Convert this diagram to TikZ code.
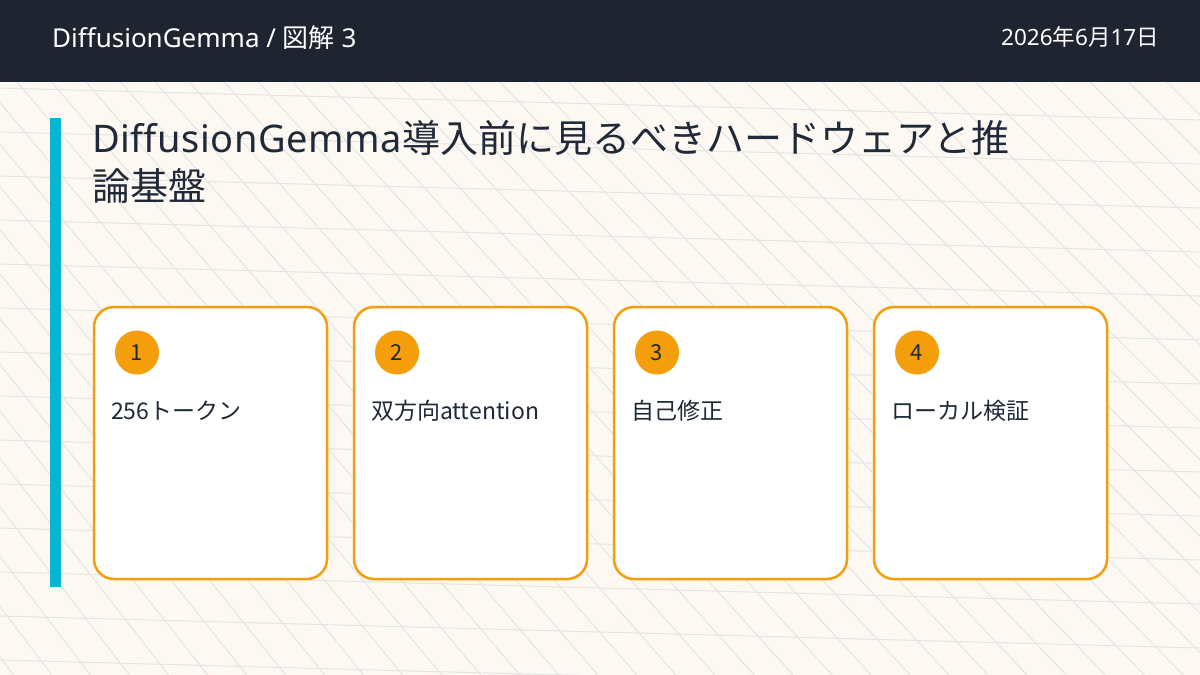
\documentclass[tikz,border=0pt]{standalone}
\usepackage{fontspec}
\setmainfont{Noto Sans CJK JP}
\newfontfamily\latinfont{Noto Sans}
\newfontfamily\latinwide{Noto Sans}[LetterSpace=1.5]
\usetikzlibrary{positioning}
\definecolor{paper}{HTML}{FDF8F1}
\definecolor{navy}{HTML}{1E2430}
\definecolor{ink}{HTML}{1F2937}
\definecolor{amber}{HTML}{F59E0B}
\definecolor{accent}{HTML}{06B6D4}
\definecolor{gridline}{HTML}{E3E4E6}
\tikzset{
	card/.style={draw=amber, line width=2.5pt, fill=white, rounded corners=20pt,
		minimum width=233pt, minimum height=272pt, inner sep=0pt, outer sep=0pt},
	badge/.style={circle, fill=amber, minimum size=44pt, inner sep=0pt,
		text=ink, font=\fontsize{22}{22}\selectfont},
	cardtext/.style={anchor=base west, inner sep=0pt, text=ink,
		font=\fontsize{23}{23}\selectfont},
	titletext/.style={anchor=base west, inner sep=0pt, text=ink,
		font=\fontsize{38}{38}\selectfont},
}

\begin{document}
\begin{tikzpicture}[x=1pt, y=-1pt]
		\useasboundingbox (0,0) rectangle (1200,675);
		\fill[paper] (0,0) rectangle (1200,675);

		% background grid
		\begin{scope}
			\clip (0,82) rectangle (1200,675);
			\foreach \k in {0,...,16}
				\draw[gridline, line width=1pt] (0,44*\k) -- (1200,44*\k+32);
			\foreach \k in {-20,...,44} {
				\pgfmathsetmacro{\xk}{18+38.3*\k}
				\pgfmathsetmacro{\r}{0.76+0.24*min(1,max(0,\xk/1200))}
				\draw[gridline, line width=1pt] (\xk-498*\r,82) -- (\xk+95*\r,675);
			}
		\end{scope}

		% header bar
		\fill[navy] (0,0) rectangle (1200,82);
		\node[anchor=base west, inner sep=0pt, text=white, font=\fontsize{26}{26}\selectfont]
			(header) at (52,47) {{\latinfont DiffusionGemma / }図解{\latinfont\ 3}};
		\node[anchor=base east, inner sep=0pt, text=white, font=\fontsize{22.5}{22.5}\selectfont]
			(date) at (1159,45) {{\latinfont 2026}年{\latinfont 6}月{\latinfont 17}日};

		% title
		\fill[accent] (50,118) rectangle (61,587);
		\node[titletext] (title) at (92,152) {{\latinwide DiffusionGemma}導入前に見るべきハードウェアと推};
		\node[titletext] (title2) at (92,200) {論基盤};

		% cards
		\foreach \n/\txt [count=\i] in {1/256トークン, 2/双方向attention, 3/自己修正, 4/ローカル検証} {
			\node[card] (card\n) at (210.5+260*\i-260,443) {};
			\node[badge] (badge\n) at ([shift={(43,45.5)}]card\n.north west) {\n};
			\node[cardtext] (label\n) at ([shift={(17,112)}]card\n.north west) {\txt};
		}

	\end{tikzpicture}
\end{document}
